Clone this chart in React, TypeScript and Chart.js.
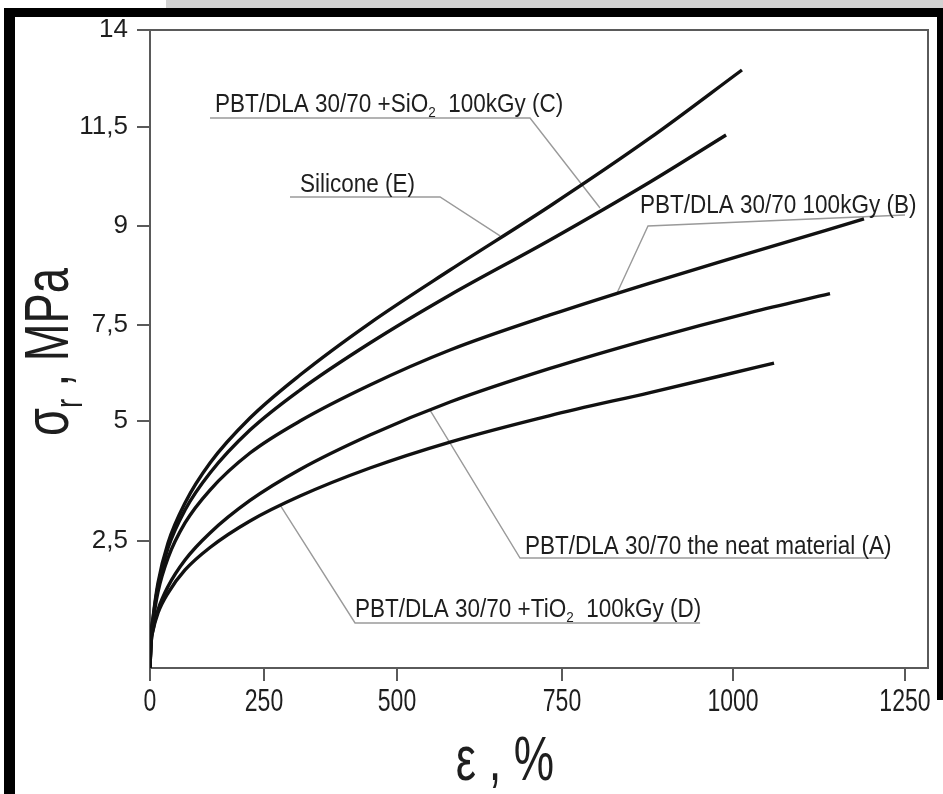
import React, { useEffect, useRef } from 'react';
import { Chart, registerables, LinearScale } from 'chart.js';

// ---------- data (strain %, stress MPa) ----------
const E_X = [0, 2.2, 6.6, 17.5, 39.5, 76.8, 131.6, 219.3, 317.7, 449.2, 580.3, 731.8, 878.7, 1013];
const E_Y = [0, 0.591, 0.984, 1.673, 2.461, 3.292, 4.125, 5.078, 6.198, 7.53, 8.333, 9.505, 11.222, 12.969];

const C_X = [0, 2.2, 6.6, 17.5, 39.5, 76.8, 131.6, 219.3, 317.7, 449.2, 580.3, 731.8, 878.7, 989.8];
const C_Y = [0, 0.591, 0.965, 1.614, 2.362, 3.146, 3.917, 4.812, 5.807, 7.031, 7.955, 8.788, 10.111, 11.298];

const B_X = [0, 2.2, 6.6, 17.5, 39.5, 76.8, 131.6, 219.3, 317.7, 449.2, 580.3, 731.8, 878.7, 1024.7, 1190.4];
const B_Y = [0, 0.551, 0.906, 1.496, 2.165, 2.875, 3.562, 4.333, 5.0, 5.938, 6.849, 7.652, 8.136, 8.591, 9.177];

const A_X = [0, 2.2, 6.6, 17.5, 39.5, 76.8, 131.6, 219.3, 317.7, 449.2, 580.3, 731.8, 878.7, 1024.7, 1141];
const A_Y = [0, 0.472, 0.756, 1.142, 1.604, 2.126, 2.667, 3.344, 3.99, 4.708, 5.495, 6.37, 7.135, 7.689, 7.976];

const D_X = [0, 2.2, 6.6, 17.5, 39.5, 76.8, 131.6, 219.3, 317.7, 449.2, 580.3, 731.8, 878.7, 981, 1059.6];
const D_Y = [0, 0.472, 0.738, 1.083, 1.476, 1.929, 2.372, 2.917, 3.437, 4.021, 4.562, 5.143, 5.742, 6.172, 6.51];

// ---------- ticks ----------
const X_TICKS = [0, 250, 500, 750, 1000, 1250];
const X_TICK_LABELS = ['0', '250', '500', '750', '1000', '1250'];
const Y_TICKS = [2.5, 5, 7.5, 9, 11.5, 14];
const Y_TICK_LABELS = ['2,5', '5', '7,5', '9', '11,5', '14'];

// ---------- the figure's non-uniform axes: value -> fraction of axis length ----------
const X_BREAK_VALUES = [0, 250, 500, 750, 1000, 1250, 1283];
const X_BREAK_FRACS = [0, 0.1465, 0.3175, 0.5296, 0.7494, 0.9704, 1];
const Y_BREAK_VALUES = [0, 2.5, 5, 7.5, 9, 11.5, 14];
const Y_BREAK_FRACS = [0, 0.1991, 0.3871, 0.5376, 0.6928, 0.848, 1];

// ---------- curve labels (data coordinates) ----------
type Part = { t: string; sub?: boolean };
const ANNOTATIONS: { parts: Part[]; at: [number, number]; path: [number, number][] }[] = [
  {
    parts: [{ t: 'PBT/DLA 30/70 +SiO' }, { t: '2', sub: true }, { t: '  100kGy (C)' }],
    at: [142.5, 11.887],
    path: [[131.6, 11.732], [701.5, 11.732], [805.6, 9.455]],
  },
  {
    parts: [{ t: 'Silicone (E)' }],
    at: [317.7, 9.859],
    path: [[298.9, 9.732], [565.2, 9.732], [656.1, 8.849]],
  },
  {
    parts: [{ t: 'PBT/DLA 30/70 100kGy (B)' }],
    at: [864, 9.328],
    path: [[1250, 9.278], [875.7, 9.0], [830.4, 7.985]],
  },
  {
    parts: [{ t: 'PBT/DLA 30/70 the neat material (A)' }],
    at: [693.9, 2.244],
    path: [[1220.9, 2.165], [686.4, 2.165], [550, 5.286]],
  },
  {
    parts: [{ t: 'PBT/DLA 30/70 +TiO' }, { t: '2', sub: true }, { t: '  100kGy (D)' }],
    at: [421.1, 1.004],
    path: [[951.8, 0.886], [421.1, 0.886], [280.1, 3.25]],
  },
];

const SERIES = [
  { label: 'Silicone (E)', xs: E_X, ys: E_Y },
  { label: 'PBT/DLA 30/70 +SiO2 100kGy (C)', xs: C_X, ys: C_Y },
  { label: 'PBT/DLA 30/70 100kGy (B)', xs: B_X, ys: B_Y },
  { label: 'PBT/DLA 30/70 the neat material (A)', xs: A_X, ys: A_Y },
  { label: 'PBT/DLA 30/70 +TiO2 100kGy (D)', xs: D_X, ys: D_Y },
];

const BREAKS: Record<string, { v: number[]; f: number[] }> = {
  x: { v: X_BREAK_VALUES, f: X_BREAK_FRACS },
  y: { v: Y_BREAK_VALUES, f: Y_BREAK_FRACS },
};

function interp(v: number, a: number[], b: number[]) {
  const n = a.length;
  let i = 1;
  while (i < n - 1 && v > a[i]) i++;
  const t = (v - a[i - 1]) / (a[i] - a[i - 1]);
  return b[i - 1] + t * (b[i] - b[i - 1]);
}

class PiecewiseScale extends LinearScale {
  static id = 'piecewise';
  static defaults = {};
  getPixelForValue(value: number) {
    if (value === null || value === undefined || isNaN(value as number)) return NaN;
    const br = BREAKS[(this as any).id];
    return this.getPixelForDecimal(interp(value, br.v, br.f));
  }
  getValueForPixel(pixel: number) {
    const br = BREAKS[(this as any).id];
    return interp(this.getDecimalForPixel(pixel), br.f, br.v);
  }
}

Chart.register(...registerables, PiecewiseScale as any);

const FONT = '"Liberation Sans", Arial, Helvetica, sans-serif';
const TEXT = '#1e1e1e';

function partsWidth(ctx: CanvasRenderingContext2D, parts: Part[], size: number) {
  let w = 0;
  for (const p of parts) {
    ctx.font = `${p.sub ? Math.round(size * 0.6) : size}px ${FONT}`;
    w += ctx.measureText(p.t).width;
  }
  return w;
}

function drawParts(ctx: CanvasRenderingContext2D, parts: Part[], size: number) {
  let cx = 0;
  for (const p of parts) {
    ctx.font = `${p.sub ? Math.round(size * 0.6) : size}px ${FONT}`;
    ctx.fillText(p.t, cx, p.sub ? size * 0.22 : 0);
    cx += ctx.measureText(p.t).width;
  }
}

const decorPlugin = {
  id: 'decor',
  beforeDatasetsDraw(chart: any) {
    const { ctx, chartArea: a } = chart;
    const xs = chart.scales.x;
    const ys = chart.scales.y;
    ctx.save();
    ctx.strokeStyle = '#5a5a5a';
    ctx.lineWidth = 2;
    ctx.beginPath();
    ctx.moveTo(a.left, a.top);
    ctx.lineTo(a.right, a.top);
    ctx.lineTo(a.right, a.bottom);
    ctx.stroke();
    ctx.strokeStyle = '#9a9a9a';
    ctx.lineWidth = 1.4;
    for (const an of ANNOTATIONS) {
      ctx.beginPath();
      an.path.forEach(([vx, vy], i) => {
        const px = xs.getPixelForValue(vx);
        const py = ys.getPixelForValue(vy);
        if (i === 0) ctx.moveTo(px, py);
        else ctx.lineTo(px, py);
      });
      ctx.stroke();
    }
    ctx.restore();
  },
  afterDatasetsDraw(chart: any) {
    const { ctx, chartArea: a } = chart;
    const xs = chart.scales.x;
    const ys = chart.scales.y;
    ctx.save();
    ctx.fillStyle = TEXT;
    ctx.textBaseline = 'alphabetic';
    ctx.textAlign = 'left';
    // curve labels
    const annSize = 25;
    const annSx = 0.9;
    for (const an of ANNOTATIONS) {
      ctx.save();
      ctx.translate(xs.getPixelForValue(an.at[0]), ys.getPixelForValue(an.at[1]));
      ctx.scale(annSx, 1);
      drawParts(ctx, an.parts, annSize);
      ctx.restore();
    }
    // x tick labels (narrow, tall digits)
    const tickSize = 32;
    const tickSx = 0.72;
    X_TICKS.forEach((v, i) => {
      const px = xs.getPixelForValue(v);
      ctx.save();
      ctx.translate(px, a.bottom + 43);
      ctx.scale(tickSx, 1);
      ctx.font = `${tickSize}px ${FONT}`;
      ctx.textAlign = 'center';
      ctx.fillText(X_TICK_LABELS[i], 0, 0);
      ctx.restore();
    });
    // x title
    const tSize = 63;
    const tSx = 0.72;
    const xParts: Part[] = [{ t: 'ε , %' }];
    ctx.save();
    const xw = partsWidth(ctx, xParts, tSize) * tSx;
    ctx.translate(505 - xw / 2, 780);
    ctx.scale(tSx, 1);
    drawParts(ctx, xParts, tSize);
    ctx.restore();
    // y title (rotated)
    const yParts: Part[] = [{ t: 'σ' }, { t: 'r', sub: true }, { t: ' , MPa' }];
    ctx.save();
    const yw = partsWidth(ctx, yParts, tSize) * tSx;
    ctx.translate(68, 352);
    ctx.rotate(-Math.PI / 2);
    ctx.translate(-yw / 2, 0);
    ctx.scale(tSx, 1);
    drawParts(ctx, yParts, tSize);
    ctx.restore();
    ctx.restore();
  },
};

export default function App() {
  const ref = useRef<HTMLCanvasElement | null>(null);
  useEffect(() => {
    if (!ref.current) return;
    const chart = new Chart(ref.current, {
      type: 'line',
      data: {
        datasets: SERIES.map((s) => ({
          label: s.label,
          data: s.xs.map((x, i) => ({ x, y: s.ys[i] })),
          borderColor: '#111111',
          borderWidth: 3.4,
          pointRadius: 0,
          fill: false,
          cubicInterpolationMode: 'monotone' as const,
        })),
      },
      options: {
        animation: false,
        responsive: false,
        maintainAspectRatio: false,
        layout: { padding: { top: 30, right: 15, left: 0, bottom: 0 } },
        plugins: { legend: { display: false }, tooltip: { enabled: false } },
        events: [],
        scales: {
          x: {
            type: 'piecewise' as any,
            min: 0,
            max: 1283,
            afterBuildTicks: (s: any) => {
              s.ticks = X_TICKS.map((v) => ({ value: v }));
            },
            afterFit: (s: any) => {
              s.height = 126;
            },
            grid: { drawOnChartArea: false, drawTicks: true, tickLength: 13, color: '#5a5a5a', lineWidth: 2 },
            border: { display: true, color: '#5a5a5a', width: 2 },
            ticks: { display: false, autoSkip: false },
          },
          y: {
            type: 'piecewise' as any,
            min: 0,
            max: 14,
            afterBuildTicks: (s: any) => {
              s.ticks = Y_TICKS.map((v) => ({ value: v }));
            },
            afterFit: (s: any) => {
              s.width = 150;
            },
            grid: { drawOnChartArea: false, drawTicks: true, tickLength: 13, color: '#5a5a5a', lineWidth: 2 },
            border: { display: true, color: '#5a5a5a', width: 2 },
            ticks: {
              autoSkip: false,
              padding: 9,
              color: TEXT,
              font: { family: FONT, size: 26 },
              callback: (_v: any, i: number) => Y_TICK_LABELS[i],
            },
          },
        },
      } as any,
      plugins: [decorPlugin],
    });
    return () => chart.destroy();
  }, []);

  return (
    <div style={{ position: 'fixed', left: 0, top: 0, width: 943, height: 794, background: '#fff', overflow: 'hidden' }}>
      <canvas ref={ref} width={943} height={794} style={{ position: 'absolute', left: 0, top: 0, width: 943, height: 794 }} />
      <div style={{ position: 'absolute', left: 166, top: 0, width: 777, height: 8, background: '#d2d2d2' }} />
      <div style={{ position: 'absolute', left: 4, top: 8, width: 939, height: 9, background: '#000' }} />
      <div style={{ position: 'absolute', left: 4, top: 8, width: 11, height: 786, background: '#000' }} />
      <div style={{ position: 'absolute', left: 937, top: 8, width: 6, height: 692, background: '#000' }} />
    </div>
  );
}
